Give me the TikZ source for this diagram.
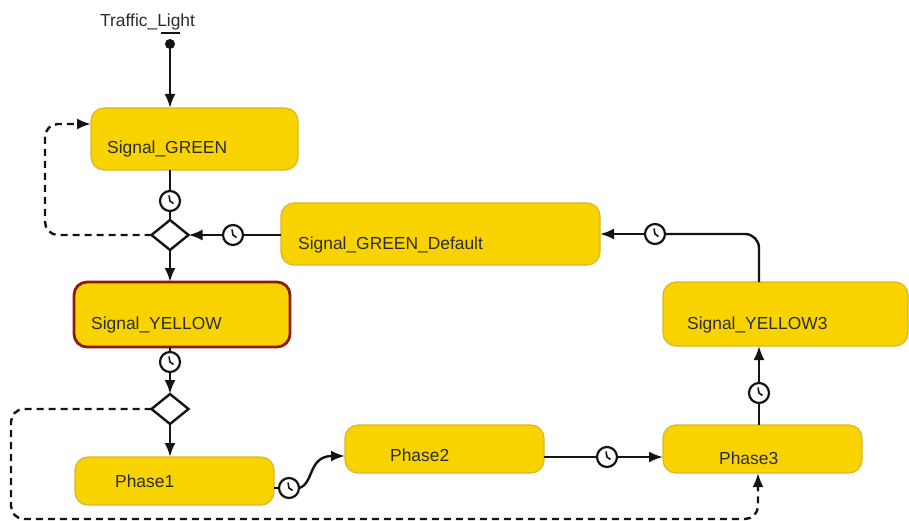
\documentclass[tikz,border=0pt]{standalone}
\usepackage{fontspec}
\setmainfont{Liberation Sans}
\usetikzlibrary{arrows.meta,shapes.geometric,calc}
\definecolor{boxfill}{HTML}{F8D300}
\definecolor{boxedge}{HTML}{D8B62C}
\definecolor{redge}{HTML}{8E1A10}
\definecolor{ink}{HTML}{141414}
\tikzset{
  x=1pt,y=-1pt,
  statebox/.style={draw=boxedge,fill=boxfill,line width=1.2pt,rounded corners=13pt,inner sep=0pt,outer sep=0pt,anchor=north west},
  statetext/.style={font=\fontsize{17.4}{20}\selectfont,text=ink!90,inner sep=0pt,anchor=base west},
  flow/.style={draw=ink,line width=2.4pt,-{Latex[length=14pt,width=11pt]}},
  plain/.style={draw=ink,line width=2.4pt},
  dashline/.style={draw=ink,line width=2.4pt,dash pattern=on 7pt off 5pt,rounded corners=13pt},
  choice/.style={diamond,draw=ink,fill=white,line width=2.4pt,minimum width=37pt,minimum height=30pt,inner sep=0pt,outer sep=0pt,aspect=1.2},
  clock/.style={circle,draw=ink,fill=white,line width=2.2pt,minimum size=20pt,inner sep=0pt,outer sep=0pt,
    path picture={\draw[ink,line width=1.6pt] (path picture bounding box.center) ++(-1,-5.5) -- ++(1,5.5) -- ++(3.5,2.5);}},
}
\begin{document}
\begin{tikzpicture}
\useasboundingbox (0,0) rectangle (909,521);
% state boxes
\node[statebox,minimum width=207pt,minimum height=62pt] (green) at (91,108) {};
\node[statebox,minimum width=319pt,minimum height=62pt] (default) at (281,203) {};
\node[statebox,draw=redge,line width=2.8pt,minimum width=216pt,minimum height=65pt] (yellow) at (74,282) {};
\node[statebox,minimum width=245pt,minimum height=64pt] (yellowthree) at (663,282) {};
\node[statebox,minimum width=199pt,minimum height=48pt] (phasethree) at (663,425) {};
\node[statebox,minimum width=199pt,minimum height=48pt] (phasetwo) at (345,425) {};
\node[statebox,minimum width=199pt,minimum height=48pt] (phaseone) at (75,457) {};
% state labels
\node[statetext] (tgreen) at (107,154) {Signal\_GREEN};
\node[statetext] (tdefault) at (298,249) {Signal\_GREEN\_Default};
\node[statetext] (tyellow) at (91,329) {Signal\_YELLOW};
\node[statetext] (tyellowthree) at (687,329) {Signal\_YELLOW3};
\node[statetext] (tphasethree) at (719,464) {Phase3};
\node[statetext] (tphasetwo) at (390,461) {Phase2};
\node[statetext] (tphaseone) at (115,487) {Phase1};
% initial state
\node[statetext] (title) at (100,26.5) {Traffic\_Light};
\coordinate (barl) at (161,33);
\coordinate (barr) at (180,33);
\node[circle,fill=ink,minimum size=10pt,inner sep=0pt,outer sep=0pt] (init) at (170,44) {};
\draw[ink,line width=1.8pt] (barl) -- (barr);
% decisions
\node[choice] (dec) at (170,235) {};
\node[choice] (dectwo) at (170,409) {};
% timers
\node[clock] (ca) at (170,201) {};
\node[clock] (cb) at (233,235) {};
\node[clock] (cc) at (170,362) {};
\node[clock] (cd) at (289,488) {};
\node[clock] (ce) at (607,457) {};
\node[clock] (cf) at (655,234) {};
\node[clock] (cg) at (759,393) {};
% connectors
\draw[flow] (init) -- (init |- green.north);
\draw[plain] (ca |- green.south) -- (ca);
\draw[plain] (ca) -- (dec.north);
\draw[flow] (dec.south) -- (dec |- yellow.north);
\draw[plain] (default.west |- cb) -- (cb);
\draw[flow] (cb) -- (dec.east);
\draw[plain] (cc |- yellow.south) -- (cc);
\draw[flow] (cc) -- (dectwo.north);
\draw[flow] (dectwo.south) -- (dectwo |- phaseone.north);
\draw[plain] (phaseone.east |- cd) -- (cd);
\coordinate (ptwoin) at (345,456);
\draw[flow] (cd.east) .. controls (314,484) and (308,456) .. (ptwoin);
\draw[plain] (phasetwo.east |- ce) -- (ce);
\draw[flow] (ce) -- (phasethree.west |- ce);
\draw[plain] (cg |- phasethree.north) -- (cg);
\draw[flow] (cg) -- (cg |- yellowthree.south);
\draw[plain,rounded corners=14pt] (cg |- yellowthree.north) -- (cg |- cf) -- (cf);
\draw[flow] (cf) -- (default.east |- cf);
% dashed returns
\coordinate (la) at (45,235);
\coordinate (lb) at (45,124);
\coordinate (lc) at (11,409);
\coordinate (ld) at (11,519);
\coordinate (le) at (758,519);
\draw[dashline,-{Latex[length=14pt,width=11pt]}] (dec.west) -- (la) -- (lb) -- (green.west |- lb);
\draw[dashline,-{Latex[length=14pt,width=11pt]}] (dectwo.west) -- (lc) -- (ld) -- (le) -- (le |- phasethree.south);
\end{tikzpicture}
\end{document}
